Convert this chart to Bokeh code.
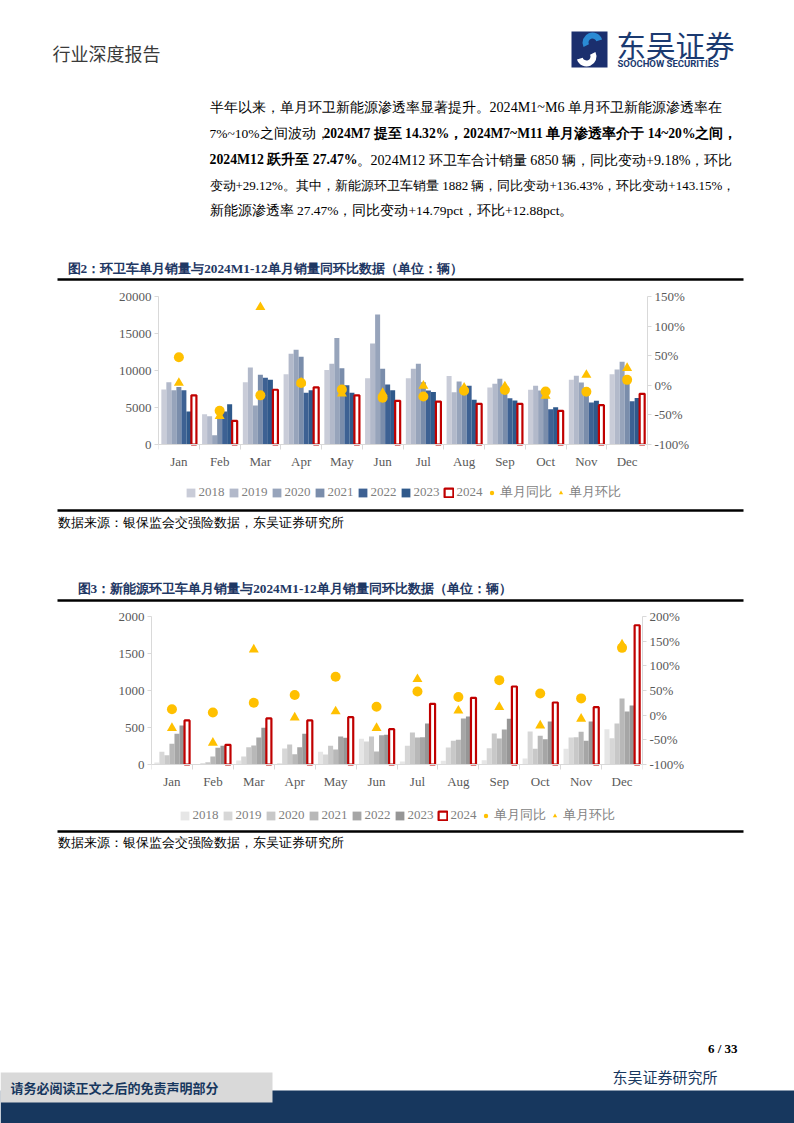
from bokeh.plotting import figure
from bokeh.models import (Range1d, LinearAxis, FixedTicker, Legend, LegendItem,
                          PrintfTickFormatter)
from bokeh.core.properties import value
from bokeh.embed import file_html
from bokeh.resources import INLINE

# ---------------- data ----------------
months = ["Jan", "Feb", "Mar", "Apr", "May", "Jun", "Jul", "Aug", "Sep", "Oct", "Nov", "Dec"]
years = ["2018", "2019", "2020", "2021", "2022", "2023", "2024"]

# Figure 2: total sanitation vehicle monthly sales (units)
total_2018 = [7420, 4100, 8400, 9480, 10070, 8940, 8940, 9240, 7700, 7390, 8740, 9500]
total_2019 = [8400, 3820, 10400, 12270, 10900, 13660, 10230, 7070, 8200, 7930, 9280, 10140]
total_2020 = [7330, 1260, 5260, 12800, 14400, 17570, 10900, 8500, 8870, 7300, 8380, 11170]
total_2021 = [7780, 3600, 9440, 11870, 10300, 10250, 8420, 7700, 6850, 6400, 6850, 9000]
total_2022 = [7330, 4450, 9030, 7000, 8000, 8100, 7300, 7930, 6260, 4780, 5680, 5860]
total_2023 = [4450, 5450, 8760, 7330, 7000, 7330, 7100, 6040, 5950, 5050, 5900, 6270]
total_2024 = [6650, 3200, 7400, 7730, 6650, 5900, 5800, 5500, 5500, 4550, 5320, 6850]
total_yoy = [47.5, -43, -17, 4, -7, -21, -19, -9, -8, -10.5, -11, 9.18]
total_mom = [4, -52, 132, 4.5, -14, -13, -1, -4, -2, -18, 17.5, 29.12]

# Figure 3: new-energy sanitation vehicle monthly sales (units)
nev_2018 = [27, 5, 54, 18, 171, 347, 40, 50, 59, 81, 212, 478]
nev_2019 = [171, 18, 108, 216, 135, 311, 252, 230, 221, 446, 365, 356]
nev_2020 = [126, 32, 234, 270, 252, 378, 432, 320, 419, 212, 369, 554]
nev_2021 = [279, 108, 257, 140, 203, 176, 365, 333, 351, 387, 441, 892]
nev_2022 = [414, 225, 365, 234, 378, 396, 369, 622, 473, 342, 320, 716]
nev_2023 = [527, 252, 495, 414, 360, 401, 554, 649, 617, 581, 581, 796]
nev_2024 = [595, 266, 622, 595, 640, 478, 820, 901, 1054, 838, 774, 1882]
nev_yoy = [12, 5.5, 25, 41, 78, 17, 48, 37, 71, 44, 34, 136.43]
nev_mom = [-26, -56, 133, -5, 7.5, -26, 73, 9, 16.5, -21, -7.5, 143.15]

left_ticks_1 = [0, 5000, 10000, 15000, 20000]
right_ticks_1 = [-100, -50, 0, 50, 100, 150]
left_ticks_2 = [0, 500, 1000, 1500, 2000]
right_ticks_2 = [-100, -50, 0, 50, 100, 150, 200]

blue_colors = ["#c9ccd8", "#b2b9ca", "#97a4bb", "#7a8dab", "#3d6193", "#2f598b"]
gray_colors = ["#e6e6e6", "#d7d7d7", "#c8c8c8", "#b8b8b8", "#a6a6a6", "#969696"]
RED = "#c00000"
GOLD = "#ffc000"

W = 794
SERIF = "Liberation Serif"
CJK = "Noto Sans CJK SC"


def page_fig(h):
    p = figure(width=W, height=h, x_range=Range1d(0, W), y_range=Range1d(h, 0),
               x_axis_type=None, y_axis_type=None, output_backend="svg",
               toolbar_location=None, min_border=0, outline_line_color=None)
    p.xgrid.visible = False
    p.ygrid.visible = False
    return p


def txt(p, y0, x, y, s, size, color="#000000", font=SERIF, bold=False, align="left"):
    p.text(x=[x], y=[y - y0], text=[s], text_font=value(font),
           text_font_size=value(f"{size}px"), text_color=color,
           text_font_style="bold" if bold else "normal",
           text_baseline="middle", text_align=align)


def rule(p, y0, y, x1=57, x2=743, t=2.5):
    p.quad(left=[x1], right=[x2], top=[y - y0 - t / 2], bottom=[y - y0 + t / 2],
           fill_color="#000000", line_color=None)


def make_chart(series, colors, yoy, mom, ymax, lticks, rmin, rmax, rticks,
               frame_left, frame_w, fig_top, plot_top, zero_y, fig_bottom, leg_margin):
    h = fig_bottom - fig_top
    plot_px = zero_y - plot_top
    ext_px = fig_bottom - zero_y
    ymin = -ymax * ext_px / plot_px
    rmin_ext = rmin - (rmax - rmin) * ext_px / plot_px
    p = figure(width=W, height=h, x_range=Range1d(0, 12), y_range=Range1d(ymin, ymax),
               output_backend="svg", toolbar_location=None,
               min_border_left=frame_left, min_border_right=W - frame_left - frame_w,
               min_border_top=plot_top - fig_top, min_border_bottom=0,
               outline_line_color=None)
    p.xgrid.visible = False
    p.ygrid.visible = False
    p.extra_y_ranges = {"pct": Range1d(rmin_ext, rmax)}

    bw = 0.123
    items = []
    for i, (yr, vals) in enumerate(zip(years, series)):
        xs = [m + 0.5 + (i - 3) * bw for m in range(12)]
        if yr == "2024":
            r = p.vbar(x=xs, top=vals, width=bw, fill_color="white",
                       line_color=RED, line_width=2.2)
        else:
            r = p.vbar(x=xs, top=vals, width=bw, fill_color=colors[i], line_color=None)
        items.append(LegendItem(label=yr, renderers=[r]))
    cx = [m + 0.5 for m in range(12)]
    rc = p.scatter(x=cx, y=yoy, marker="circle", size=10, fill_color=GOLD,
                   line_color=None, y_range_name="pct")
    rt = p.scatter(x=cx, y=mom, marker="triangle", size=10, fill_color=GOLD,
                   line_color=None, y_range_name="pct")
    items.append(LegendItem(label="单月同比", renderers=[rc]))
    items.append(LegendItem(label="单月环比", renderers=[rt]))

    xa = p.xaxis[0]
    xa.fixed_location = 0
    xa.ticker = FixedTicker(ticks=cx, minor_ticks=list(range(13)))
    xa.major_label_overrides = {c: m for c, m in zip(cx, months)}
    xa.major_tick_line_color = None
    xa.minor_tick_in = 0
    xa.minor_tick_out = 5
    xa.minor_tick_line_color = "#d9d9d9"
    xa.major_label_standoff = 3

    ya = p.yaxis[0]
    ya.ticker = FixedTicker(ticks=lticks)
    ya.bounds = (0, ymax)
    ra = LinearAxis(y_range_name="pct", ticker=FixedTicker(ticks=rticks),
                    formatter=PrintfTickFormatter(format="%d%%"), bounds=(rmin, rmax))
    p.add_layout(ra, "right")
    for a in (ya, ra):
        a.major_tick_in = 0
        a.major_tick_out = 4
        a.minor_tick_line_color = None
        a.major_label_standoff = 3
        a.major_tick_line_color = "#d9d9d9"
    for a in (xa, ya, ra):
        a.axis_line_color = "#d9d9d9"
        a.major_label_text_font = SERIF
        a.major_label_text_font_size = "13px"
        a.major_label_text_color = "#595959"

    leg = Legend(items=items, orientation="horizontal", location="bottom_center",
                 border_line_color=None, background_fill_alpha=0,
                 label_text_font=SERIF, label_text_font_size="13px",
                 label_text_color="#7f7f7f", glyph_width=11, glyph_height=11,
                 label_height=15, spacing=3, label_standoff=3, padding=4,
                 margin=leg_margin)
    p.add_layout(leg)
    return p


# ---------------- section A: header, paragraph, title 2 ----------------
A0, AH = 0, 286
pa = page_fig(AH)
txt(pa, A0, 52, 52, "行业深度报告", 18, "#3a3a3a", CJK)
# logo
pa.quad(left=[571], right=[607], top=[31], bottom=[67], fill_color="#1b2f6e", line_color=None)
pa.annular_wedge(x=[592], y=[42], inner_radius=4, outer_radius=10,
                 start_angle=0.3, end_angle=3.6, fill_color="#2a8ad4", line_color=None)
pa.annular_wedge(x=[586], y=[56], inner_radius=4, outer_radius=10,
                 start_angle=3.45, end_angle=6.75, fill_color="#ffffff", line_color=None)
txt(pa, A0, 616, 43, "东吴证券", 29.5, "#1b3a70", CJK)
txt(pa, A0, 617, 63, "SOOCHOW SECURITIES", 9.5, "#1b3a70", "Roboto", bold=True)

txt(pa, A0, 209, 106, "半年以来，单月环卫新能源渗透率显著提升。2024M1~M6 单月环卫新能源渗透率在", 14.1)
txt(pa, A0, 209, 133, "7%~10%之间波动，", 13.5)
txt(pa, A0, 323, 133, "2024M7 提至 14.32%，2024M7~M11 单月渗透率介于 14~20%之间，", 13.6, bold=True)
txt(pa, A0, 209, 159, "2024M12 跃升至 27.47%", 13.8, bold=True)
txt(pa, A0, 356, 159, "。2024M12 环卫车合计销量 6850 辆，同比变动+9.18%，环比", 14.1)
txt(pa, A0, 209, 185, "变动+29.12%。其中，新能源环卫车销量 1882 辆，同比变动+136.43%，环比变动+143.15%，", 13)
txt(pa, A0, 209, 210, "新能源渗透率 27.47%，同比变动+14.79pct，环比+12.88pct。", 13.5)

txt(pa, A0, 67, 268, "图2：环卫车单月销量与2024M1-12单月销量同环比数据（单位：辆）", 13.3, "#1f3864", SERIF, bold=True)
rule(pa, A0, 279)

# ---------------- section B: chart 1 ----------------
p1 = make_chart([total_2018, total_2019, total_2020, total_2021, total_2022, total_2023, total_2024],
                blue_colors, total_yoy, total_mom, 20000, left_ticks_1, -100, 150, right_ticks_1,
                frame_left=158, frame_w=489, fig_top=286, plot_top=296, zero_y=444,
                fig_bottom=505, leg_margin=4)

# ---------------- section C: source 1, title 3 ----------------
C0, CH = 505, 103
pc = page_fig(CH)
rule(pc, C0, 510)
txt(pc, C0, 57, 522, "数据来源：银保监会交强险数据，东吴证券研究所", 12.5, "#000000", SERIF)
txt(pc, C0, 77, 588, "图3：新能源环卫车单月销量与2024M1-12单月销量同环比数据（单位：辆）", 13.3, "#1f3864", SERIF, bold=True)
rule(pc, C0, 600)

# ---------------- section D: chart 2 ----------------
p2 = make_chart([nev_2018, nev_2019, nev_2020, nev_2021, nev_2022, nev_2023, nev_2024],
                gray_colors, nev_yoy, nev_mom, 2000, left_ticks_2, -100, 200, right_ticks_2,
                frame_left=151, frame_w=491, fig_top=608, plot_top=616, zero_y=764,
                fig_bottom=826, leg_margin=2)

# ---------------- section E: source 2 + footer ----------------
E0, EH = 826, 297
pe = page_fig(EH)
rule(pe, E0, 831)
txt(pe, E0, 57, 842, "数据来源：银保监会交强险数据，东吴证券研究所", 12.5, "#000000", SERIF)
txt(pe, E0, 737, 1048, "6 / 33", 13, "#000000", SERIF, bold=True, align="right")
txt(pe, E0, 612, 1076, "东吴证券研究所", 15, "#17375e", CJK)
pe.quad(left=[0], right=[W], top=[1090 - E0], bottom=[EH], fill_color="#17375e", line_color=None)
pe.quad(left=[0], right=[272], top=[1072 - E0], bottom=[1102 - E0], fill_color="#d9d9d9", line_color=None)
txt(pe, E0, 10, 1087, "请务必阅读正文之后的免责声明部分", 13, "#17375e", CJK, bold=True)

# each section is its own root so that Bokeh does not align their frames
open("out.html", "w").write(file_html([pa, p1, pc, p2, pe], INLINE))
